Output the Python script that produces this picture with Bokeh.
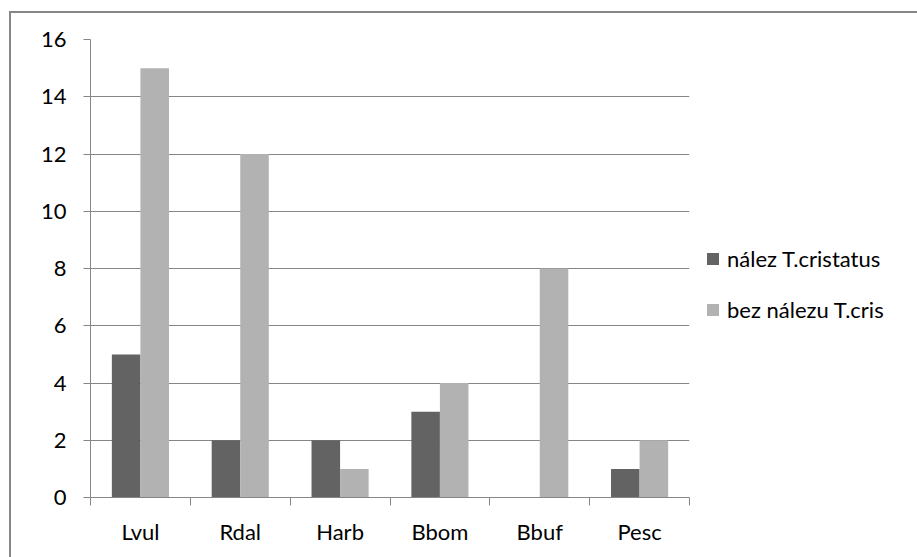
from bokeh.plotting import figure
from bokeh.models import ColumnDataSource, FixedTicker, Range1d, Legend, LegendItem
from bokeh.transform import dodge
from bokeh.embed import file_html
from bokeh.resources import INLINE
import numpy as np

# counts per species
species = ["Lvul", "Rdal", "Harb", "Bbom", "Bbuf", "Pesc"]
nalez = [5, 2, 2, 3, 0, 1]
bez_nalezu = [15, 12, 1, 4, 8, 2]
series_names = ["nález T.cristatus", "bez nálezu T.cris"]
y_ticks = [0, 2, 4, 6, 8, 10, 12, 14, 16]

FONT = "Lato"
FSIZE = "22px"
GRID = "#868686"
DARK = "#636363"
LIGHT = "#b2b2b2"

centers = np.arange(len(species)) + 0.5
src = ColumnDataSource(dict(x=centers, a=nalez, b=bez_nalezu))

p = figure(
    frame_width=599, frame_height=458,
    min_border_left=79, min_border_right=0, min_border_top=26, min_border_bottom=60,
    x_range=Range1d(0, len(species)), y_range=Range1d(0, 16),
    output_backend="svg", toolbar_location=None,
)
p.styles = {
    "margin-left": "9px", "margin-top": "11px",
    "border-left": f"2px solid {GRID}", "border-top": f"2px solid {GRID}",
}
p.outline_line_color = None
p.background_fill_color = "white"
p.border_fill_color = "white"

bw = 0.286
r1 = p.vbar(x=dodge("x", -bw / 2), top="a", width=bw, source=src, color=DARK, line_color=None)
r2 = p.vbar(x=dodge("x", bw / 2), top="b", width=bw, source=src, color=LIGHT, line_color=None)

# x axis: category labels at centers, boundary marks as minor ticks
xt = FixedTicker(ticks=list(centers), minor_ticks=list(range(len(species) + 1)))
p.xaxis.ticker = xt
p.xaxis.major_label_overrides = {float(c): s for c, s in zip(centers, species)}
p.xaxis.major_tick_out = 0
p.xaxis.major_tick_in = 0
p.xaxis.minor_tick_out = 8
p.xaxis.minor_tick_in = 0
p.xaxis.minor_tick_line_color = GRID
p.xaxis.axis_line_color = GRID
p.xaxis.major_label_standoff = 12
p.xaxis.major_label_text_font = FONT
p.xaxis.major_label_text_font_size = FSIZE
p.xaxis.major_label_text_color = "black"

p.yaxis.ticker = FixedTicker(ticks=y_ticks)
p.yaxis.major_tick_out = 7
p.yaxis.major_tick_in = 0
p.yaxis.minor_tick_line_color = None
p.yaxis.major_tick_line_color = GRID
p.yaxis.axis_line_color = GRID
p.yaxis.major_label_standoff = 17
p.yaxis.major_label_text_font = FONT
p.yaxis.major_label_text_font_size = FSIZE
p.yaxis.major_label_text_color = "black"

p.xgrid.grid_line_color = None
p.ygrid.grid_line_color = GRID
p.ygrid.grid_line_width = 1

legend = Legend(
    items=[LegendItem(label=series_names[0], renderers=[r1]),
           LegendItem(label=series_names[1], renderers=[r2])],
    location=(16, 174),
    orientation="vertical",
    glyph_width=15, glyph_height=15, label_height=24, spacing=24,
    padding=0, margin=0, label_standoff=7, label_width=190,
    label_text_font=FONT, label_text_font_size=FSIZE, label_text_color="black",
    border_line_color=None, background_fill_alpha=0,
)
p.add_layout(legend, "right")
p.min_border_right = 228

open("out.html", "w").write(file_html(p, INLINE))
